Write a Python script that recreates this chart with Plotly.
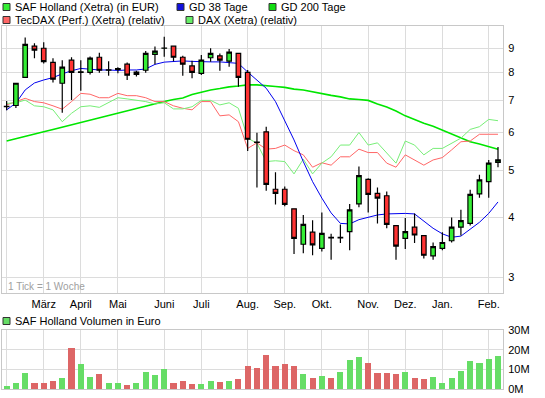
import plotly.graph_objects as go

# ---------------- data (weekly, 54 weeks) ----------------
week = list(range(54))
open_ = [6.79, 6.83, 7.82, 9.08, 8.99, 8.40, 7.60, 8.49, 8.01, 8.01,
         8.61, 8.09, 8.12, 8.33, 7.93, 8.09, 8.73, 8.99, 9.08, 8.61,
         8.26, 7.97, 8.59, 8.67, 8.45, 8.77, 8.01, 5.73, 6.02, 4.57,
         4.57, 4.16, 3.51, 3.72, 3.44, 3.63, 3.62, 3.73, 4.26, 4.79,
         4.48, 4.43, 3.84, 3.61, 3.81, 3.66, 3.32, 3.44, 3.57, 3.81,
         3.88, 4.47, 4.74, 5.20]
high = [6.98, 7.60, 9.47, 9.21, 9.25, 8.57, 8.49, 8.61, 8.49, 8.64,
        8.80, 8.45, 8.21, 8.40, 8.07, 8.87, 9.06, 9.50, 9.10, 8.67,
        8.47, 8.70, 8.99, 8.77, 8.96, 8.80, 8.10, 5.99, 6.17, 4.96,
        4.63, 4.17, 4.04, 3.94, 4.09, 3.69, 3.86, 4.26, 5.10, 4.82,
        4.61, 4.52, 3.85, 3.98, 4.07, 3.67, 3.54, 3.72, 3.99, 4.14,
        4.56, 4.90, 5.26, 5.60]
low = [6.68, 6.75, 7.82, 8.57, 8.36, 7.63, 6.60, 7.01, 7.33, 7.93,
       7.99, 7.88, 7.97, 7.72, 7.85, 7.99, 8.33, 8.63, 8.45, 7.88,
       7.78, 7.91, 8.43, 8.07, 8.23, 7.47, 5.49, 4.61, 4.54, 4.25,
       4.21, 3.35, 3.36, 3.33, 3.39, 3.26, 3.53, 3.41, 4.19, 4.09,
       3.88, 3.79, 3.26, 3.43, 3.53, 3.28, 3.26, 3.41, 3.54, 3.66,
       3.84, 4.39, 4.39, 5.08]
close = [6.80, 7.60, 9.16, 8.91, 8.43, 7.75, 8.21, 8.01, 8.03, 8.57,
         8.09, 8.10, 8.15, 7.90, 8.02, 8.77, 8.87, 9.00, 8.61, 8.33,
         8.01, 8.49, 8.77, 8.49, 8.82, 7.82, 5.81, 5.72, 4.68, 4.48,
         4.25, 3.61, 3.86, 3.50, 3.70, 3.62, 3.63, 4.14, 4.88, 4.46,
         4.38, 3.86, 3.48, 3.73, 3.67, 3.33, 3.47, 3.54, 3.81, 3.93,
         4.46, 4.78, 5.18, 5.26]

gd38 = [6.69, 6.91, 7.36, 7.61, 7.72, 7.81, 7.95, 8.07, 8.16, 8.13,
        8.10, 8.10, 8.08, 8.10, 8.10, 8.14, 8.32, 8.41, 8.45, 8.46,
        8.44, 8.42, 8.42, 8.42, 8.40, 8.36, 8.02, 7.72, 7.42, 6.96,
        6.37, 5.79, 5.22, 4.74, 4.38, 4.08, 3.88, 3.87, 3.95, 4.00,
        4.04, 4.06, 4.07, 4.07, 4.06, 3.93, 3.79, 3.69, 3.63, 3.65,
        3.77, 3.90, 4.07, 4.30]
gd200 = [5.76, 5.82, 5.89, 5.96, 6.02, 6.09, 6.16, 6.22, 6.30, 6.37,
         6.43, 6.51, 6.59, 6.65, 6.73, 6.82, 6.88, 6.96, 7.03, 7.08,
         7.20, 7.29, 7.36, 7.41, 7.47, 7.50, 7.54, 7.54, 7.52, 7.48,
         7.45, 7.39, 7.36, 7.29, 7.22, 7.17, 7.12, 7.05, 7.03, 7.00,
         6.88, 6.78, 6.65, 6.50, 6.39, 6.27, 6.18, 6.07, 5.96, 5.85,
         5.74, 5.68, 5.61, 5.54]
tecdax = [6.85, 6.96, 7.07, 6.96, 6.92, 6.82, 6.71, 6.96, 7.24, 7.21,
          7.09, 7.09, 7.24, 7.16, 7.16, 7.09, 6.96, 6.96, 6.82, 6.74,
          6.69, 6.96, 6.96, 6.50, 6.53, 6.32, 5.56, 5.71, 5.54, 5.56,
          5.65, 5.50, 5.39, 5.08, 5.19, 5.13, 5.34, 5.34, 5.54, 5.45,
          5.45, 5.18, 5.08, 5.39, 5.26, 5.13, 5.26, 5.32, 5.52, 5.74,
          5.76, 5.95, 5.95, 5.95]
dax = [6.90, 6.92, 7.01, 6.82, 6.79, 6.69, 6.32, 6.58, 6.79, 6.82,
       6.77, 6.92, 7.09, 7.05, 7.01, 6.96, 6.88, 6.92, 6.72, 6.72,
       6.79, 7.00, 7.00, 6.85, 6.92, 6.74, 5.84, 5.70, 5.22, 5.24,
       5.22, 4.92, 5.28, 4.92, 5.18, 5.34, 5.65, 5.65, 6.00, 5.65,
       5.71, 5.45, 5.18, 5.76, 5.65, 5.39, 5.56, 5.56, 5.71, 5.84,
       6.09, 6.17, 6.39, 6.35]

volume_m = [1.7, 3.3, 8.3, 3.3, 2.8, 4.2, 5.8, 20.7, 12.8, 6.3,
            7.8, 3.3, 2.8, 2.2, 2.8, 8.8, 7.2, 10.2, 2.8, 4.0,
            2.7, 2.7, 4.0, 3.5, 4.0, 5.2, 11.7, 10.7, 17.5, 11.7,
            12.7, 11.7, 7.7, 5.7, 6.7, 5.7, 8.7, 14.7, 16.2, 13.2,
            8.2, 8.2, 7.7, 8.7, 5.7, 5.2, 6.2, 3.1, 5.8, 9.2,
            14.2, 13.3, 15.3, 16.9]

month_weeks = [0, 4, 8, 12, 17, 21, 26, 30, 34, 39, 43, 47, 52]
month_labels = ["", "März", "April", "Mai", "Juni", "Juli", "Aug.", "Sep.",
                "Okt.", "Nov.", "Dez.", "Jan.", "Feb."]
price_ticks = [3, 4, 5, 6, 7, 8, 9]
vol_ticks = [0, 10, 20, 30]
vol_tick_labels = ["0M", "10M", "20M", "30M"]

# ---------------- styling ----------------
FONT = "Liberation Sans, Arial, sans-serif"
W_FIG, H_FIG = 545, 398
ML, MR, MT, MB = 2, 42, 26, 9
PW, PH = W_FIG - ML - MR, H_FIG - MT - MB

def px(x):
    return (x - ML) / PW

def py(y):
    return 1 - (y - MT) / PH

GREEN_C = "#35ee35"
RED_C = "#ff3333"
VOL_G = "#66dd66"
VOL_R = "#dd6666"
GRID = "#dcdcdc"
BORDER = "#c8c8c8"
Y_RANGE = [0.44315, 1.0001]

vol_colors = [VOL_G if c >= o else VOL_R for o, c in zip(open_, close)]

fig = go.Figure()

fig.add_trace(go.Scatter(x=week, y=gd200, mode="lines",
                         line=dict(color="#00e600", width=1.6), hoverinfo="skip"))
fig.add_trace(go.Scatter(x=week, y=tecdax, mode="lines",
                         line=dict(color="#ff6666", width=1), hoverinfo="skip"))
fig.add_trace(go.Scatter(x=week, y=dax, mode="lines",
                         line=dict(color="#77ee77", width=1), hoverinfo="skip"))
fig.add_trace(go.Scatter(x=week, y=gd38, mode="lines",
                         line=dict(color="#0000ee", width=1), hoverinfo="skip"))
# candles on an overlaying axis so they are drawn above the lines
fig.add_trace(go.Candlestick(
    x=week, open=open_, high=high, low=low, close=close,
    increasing=dict(fillcolor=GREEN_C, line=dict(color="black", width=1.2)),
    decreasing=dict(fillcolor=RED_C, line=dict(color="black", width=1.2)),
    whiskerwidth=0, hoverinfo="skip", yaxis="y3"))

fig.add_trace(go.Bar(x=week, y=[v * 1e6 for v in volume_m], marker_color=vol_colors,
                     marker_line_width=0, width=0.66, xaxis="x2", yaxis="y2",
                     hoverinfo="skip"))

main_bottom = py(293.3)
vol_top = py(330)

axis_common = dict(showline=True, mirror=True, linecolor=BORDER, linewidth=1,
                   gridcolor=GRID, gridwidth=1, zeroline=False, automargin=False,
                   tickfont=dict(family=FONT, size=11, color="black"))

fig.update_layout(
    template="none",
    width=W_FIG, height=H_FIG,
    margin=dict(l=ML, r=MR, t=MT, b=MB, pad=0, autoexpand=False),
    paper_bgcolor="white", plot_bgcolor="white",
    showlegend=False,
    bargap=0,
    xaxis=dict(domain=[0, 1], range=[-0.5, 53.54], tickmode="array",
               tickvals=month_weeks, ticktext=month_labels, ticks="",
               rangeslider=dict(visible=False), anchor="y", **axis_common),
    yaxis=dict(domain=[main_bottom, 1], type="log",
               range=Y_RANGE, side="right", tickmode="array",
               tickvals=price_ticks, ticktext=[str(t) for t in price_ticks],
               ticks="outside", ticklen=2, tickcolor="white", anchor="x",
               **axis_common),
    yaxis3=dict(overlaying="y", type="log", range=Y_RANGE, side="right",
                visible=False, showgrid=False, anchor="x", automargin=False),
    xaxis2=dict(domain=[0, 1], range=[-0.5, 53.54], tickmode="array",
                tickvals=month_weeks, showticklabels=False, ticks="",
                anchor="y2", **axis_common),
    yaxis2=dict(domain=[0, vol_top], range=[0, 30e6], side="right",
                tickmode="array", tickvals=[v * 1e6 for v in vol_ticks],
                ticktext=vol_tick_labels, ticks="outside", ticklen=2,
                tickcolor="white", anchor="x2", **axis_common),
)

# ---------------- legend (drawn as text + squares) ----------------
legend_items = [
    ("SAF Holland (Xetra) (in EUR)", GREEN_C, 3, 7),
    ("GD 38 Tage", "#1111dd", 177, 7),
    ("GD 200 Tage", "#11dd11", 269, 7),
    ("TecDAX (Perf.) (Xetra) (relativ)", "#ff6666", 3, 20),
    ("DAX (Xetra) (relativ)", "#66ee66", 186, 20),
    ("SAF Holland Volumen in Euro", VOL_G, 3, 321),
]
for text, color, x0, yc in legend_items:
    fig.add_shape(type="rect", xref="paper", yref="paper",
                  x0=px(x0), x1=px(x0 + 7), y0=py(yc + 3.5), y1=py(yc - 3.5),
                  fillcolor=color, line=dict(color="#333333", width=1))
    fig.add_annotation(text=text, xref="paper", yref="paper",
                       x=px(x0 + 10), y=py(yc), xanchor="left", yanchor="middle",
                       showarrow=False,
                       font=dict(family=FONT, size=11, color="black"))

fig.add_annotation(text="1 Tick = 1 Woche", xref="paper", yref="paper",
                   x=px(6), y=py(286.5), xanchor="left", yanchor="middle",
                   showarrow=False, font=dict(family=FONT, size=10, color="#a0a0a0"))

fig.write_html("out.html", config={"displayModeBar": False},
               post_script="document.body.style.margin='0';document.body.style.overflow='hidden';")
